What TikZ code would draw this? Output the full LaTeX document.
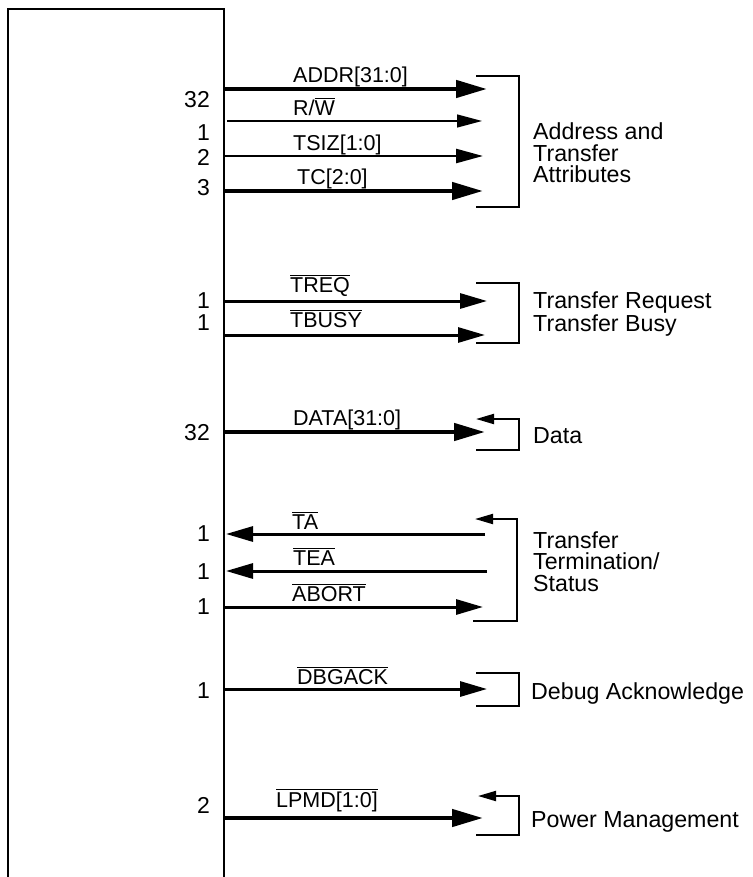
\documentclass[tikz,border=0pt]{standalone}
\usepackage{fontspec}
\setmainfont{Liberation Sans}
\usetikzlibrary{arrows.meta}
\newcommand{\ovl}[1]{\leavevmode\vbox{\hrule height 1pt\kern 2pt\hbox{#1}}}
\tikzset{
  sig/.style={font=\fontsize{21.5}{25}\selectfont, anchor=base west, inner sep=0pt},
  num/.style={font=\fontsize{23}{25}\selectfont, anchor=base east, inner sep=0pt},
  grp/.style={font=\fontsize{23.2}{21.5}\selectfont, align=left, anchor=north west, inner sep=0pt},
  boxline/.style={line width=2pt},
  thickbus/.style={line width=4.5pt, -{Triangle[length=31pt,width=17pt]}},
  medbus/.style={line width=3pt, -{Triangle[length=27pt,width=15pt]}},
  midbus/.style={line width=2.5pt, -{Triangle[length=27pt,width=14pt]}},
  thinbus/.style={line width=1.3pt, -{Triangle[length=25pt,width=13pt]}},
  brk/.style={line width=2pt},
  brkarrow/.style={line width=2pt, {Triangle[length=18pt,width=10pt]}-}
}
\begin{document}
\begin{tikzpicture}[x=1pt,y=-1pt]
\useasboundingbox (0,0) rectangle (752,877);
% box
\coordinate (boxBL) at (8,877); \coordinate (boxTL) at (8,9);
\coordinate (boxTR) at (224,9); \coordinate (boxBR) at (224,877);
\draw[boxline] (boxBL) -- (boxTL) -- (boxTR) -- (boxBR);

% ---- Address and Transfer Attributes
\coordinate (addrL) at (224,89);  \coordinate (addrR) at (487,89);
\coordinate (rwL) at (227,121);   \coordinate (rwR) at (482,121);
\coordinate (tsizL) at (224,156); \coordinate (tsizR) at (483,156);
\coordinate (tcL) at (224,191);   \coordinate (tcR) at (483,191);
\draw[thickbus] (addrL) -- (addrR);
\draw[thinbus] (rwL) -- (rwR);
\draw[midbus] (tsizL) -- (tsizR);
\draw[thickbus] (tcL) -- (tcR);
\node[sig] (addrLab) at (293,82.7) {ADDR[31:0]};
\node[sig] (rwLab) at (293,115.7) {R/\ovl{W}};
\node[sig] (tsizLab) at (293,150.7) {TSIZ[1:0]};
\node[sig] (tcLab) at (297,184.7) {TC[2:0]};
\node[num] (addrNum) at (210,107.2) {32};
\node[num] (rwNum) at (210,140.2) {1};
\node[num] (tsizNum) at (210,165.2) {2};
\node[num] (tcNum) at (210,195.2) {3};
\coordinate (b1a) at (476,76); \coordinate (b1b) at (519,76);
\coordinate (b1c) at (519,207); \coordinate (b1d) at (476,207);
\draw[brk] (b1a) -- (b1b) -- (b1c) -- (b1d);
\node[grp] (g1) at (533,122.8) {Address and\\Transfer\\Attributes};

% ---- Transfer Request / Busy
\coordinate (treqL) at (224,301);  \coordinate (treqR) at (487,301);
\coordinate (tbusyL) at (224,335); \coordinate (tbusyR) at (485,335);
\draw[medbus] (treqL) -- (treqR);
\draw[medbus] (tbusyL) -- (tbusyR);
\node[sig] (treqLab) at (290,292.7) {\ovl{TREQ}};
\node[sig] (tbusyLab) at (290,327.7) {\ovl{TBUSY}};
\node[num] (treqNum) at (210,308.2) {1};
\node[num] (tbusyNum) at (210,330.2) {1};
\coordinate (b2a) at (476,283); \coordinate (b2b) at (519,283);
\coordinate (b2c) at (519,343); \coordinate (b2d) at (476,343);
\draw[brk] (b2a) -- (b2b) -- (b2c) -- (b2d);
\node[grp] (g2) at (533,291.8) {Transfer Request\\Transfer Busy};

% ---- Data
\coordinate (dataL) at (224,432); \coordinate (dataR) at (485,432);
\draw[thickbus] (dataL) -- (dataR);
\node[sig] (dataLab) at (293,425.7) {DATA[31:0]};
\node[num] (dataNum) at (210,440.2) {32};
\coordinate (b3a) at (476,419); \coordinate (b3b) at (519,419);
\coordinate (b3c) at (519,450); \coordinate (b3d) at (476,450);
\draw[brkarrow] (b3a) -- (b3b) -- (b3c) -- (b3d);
\node[grp] (g3) at (533,427.8) {Data};

% ---- Transfer Termination / Status
\coordinate (taR) at (485,534);    \coordinate (taL) at (226,534);
\coordinate (teaR) at (487,571);   \coordinate (teaL) at (226,571);
\coordinate (abortL) at (224,607); \coordinate (abortR) at (483,607);
\draw[medbus] (taR) -- (taL);
\draw[medbus] (teaR) -- (teaL);
\draw[medbus] (abortL) -- (abortR);
\node[sig] (taLab) at (292,529.7) {\ovl{TA}};
\node[sig] (teaLab) at (293,565.7) {\ovl{TEA}};
\node[sig] (abortLab) at (292,601.7) {\ovl{ABORT}};
\node[num] (taNum) at (210,541.2) {1};
\node[num] (teaNum) at (210,579.2) {1};
\node[num] (abortNum) at (210,614.2) {1};
\coordinate (b4a) at (475,519); \coordinate (b4b) at (517,519);
\coordinate (b4c) at (517,621); \coordinate (b4d) at (473,621);
\draw[brkarrow] (b4a) -- (b4b) -- (b4c) -- (b4d);
\node[grp] (g4) at (533,531.3) {Transfer\\Termination/\\Status};

% ---- Debug Acknowledge
\coordinate (dbgL) at (224,689); \coordinate (dbgR) at (487,689);
\draw[medbus] (dbgL) -- (dbgR);
\node[sig] (dbgLab) at (297,684.7) {\ovl{DBGACK}};
\node[num] (dbgNum) at (210,698.2) {1};
\coordinate (b5a) at (476,673); \coordinate (b5b) at (519,673);
\coordinate (b5c) at (519,706); \coordinate (b5d) at (476,706);
\draw[brk] (b5a) -- (b5b) -- (b5c) -- (b5d);
\node[grp] (g5) at (531,682.3) {Debug Acknowledge};

% ---- Power Management
\coordinate (lpmdL) at (224,818); \coordinate (lpmdR) at (483,818);
\draw[thickbus] (lpmdL) -- (lpmdR);
\node[sig] (lpmdLab) at (276,807.7) {\ovl{LPMD[1:0]}};
\node[num] (lpmdNum) at (210,813.2) {2};
\coordinate (b6a) at (478,796); \coordinate (b6b) at (519,796);
\coordinate (b6c) at (519,835); \coordinate (b6d) at (476,835);
\draw[brkarrow] (b6a) -- (b6b) -- (b6c) -- (b6d);
\node[grp] (g6) at (531,811.3) {Power Management};
\end{tikzpicture}
\end{document}
